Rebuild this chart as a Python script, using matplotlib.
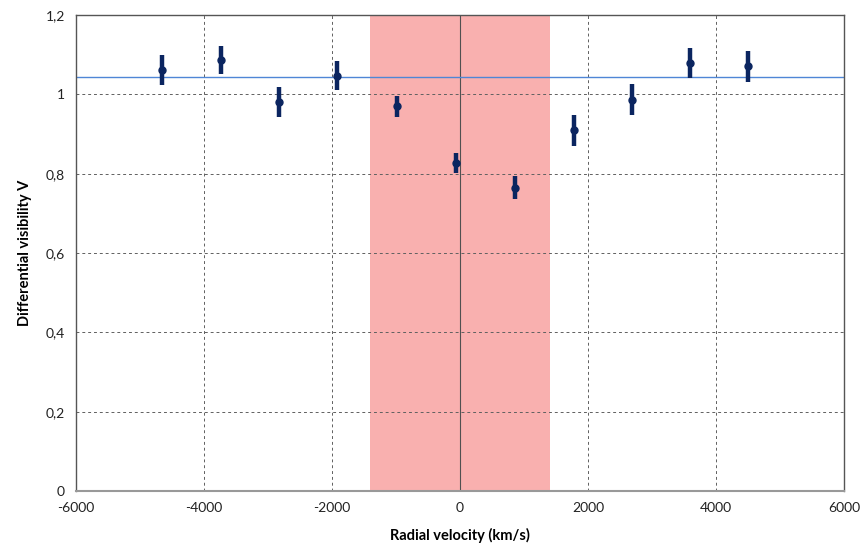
import matplotlib
matplotlib.use("Agg")
import matplotlib.pyplot as plt
from matplotlib.ticker import FuncFormatter

velocity = [-4664, -3731, -2831, -1919, -987, -70, 856, 1778, 2680, 3591, 4497]
visibility = [1.062, 1.087, 0.981, 1.047, 0.970, 0.827, 0.765, 0.909, 0.987, 1.079, 1.071]
errors = [0.038, 0.036, 0.037, 0.037, 0.026, 0.026, 0.028, 0.039, 0.038, 0.037, 0.039]
continuum_level = 1.043
band_range = [-1400, 1400]
x_ticks = [-6000, -4000, -2000, 0, 2000, 4000, 6000]
y_ticks = [0, 0.2, 0.4, 0.6, 0.8, 1.0, 1.2]

plt.rcParams['font.family'] = ['Lato', 'DejaVu Sans']
plt.rcParams['axes.unicode_minus'] = False

fig = plt.figure(figsize=(8.67, 5.56), dpi=100)
ax = fig.add_axes([0.0877, 0.1169, 0.8858, 0.8561])

ax.axvspan(band_range[0], band_range[1], color='#f9b0af', zorder=0, lw=0)

for xv in x_ticks[1:-1]:
    if xv == 0:
        ax.axvline(xv, color='#505050', lw=0.8, zorder=1)
    else:
        ax.axvline(xv, color='#606060', lw=0.7, ls=(0, (3, 3)), zorder=1)
for yv in y_ticks[1:-1]:
    ax.axhline(yv, color='#606060', lw=0.7, ls=(0, (3, 3)), zorder=1)

ax.axhline(continuum_level, color='#4f86d6', lw=1.0, zorder=2)

ax.errorbar(velocity, visibility, yerr=errors, fmt='o', color='#0b2560',
            ms=5, elinewidth=3.2, capsize=0, zorder=3)

ax.set_xlim(-6000, 6000)
ax.set_ylim(0, 1.2)
ax.set_xticks(x_ticks)
ax.set_yticks(y_ticks)
ax.yaxis.set_major_formatter(FuncFormatter(lambda v, p: ('%g' % round(v, 2)).replace('.', ',')))
ax.tick_params(length=0, labelsize=10, colors='#222222', pad=8)

for s in ['top', 'right', 'left']:
    ax.spines[s].set_color('#555555')
    ax.spines[s].set_linewidth(1.0)
ax.spines['bottom'].set_color('#999999')
ax.spines['bottom'].set_linewidth(1.5)

ax.set_xlabel('Radial velocity (km/s)', fontsize=10.5, fontweight='bold', labelpad=10)
ax.set_ylabel('Differential visibility V', fontsize=10.5, fontweight='bold', labelpad=10)

fig.savefig('out.png', dpi=100)
